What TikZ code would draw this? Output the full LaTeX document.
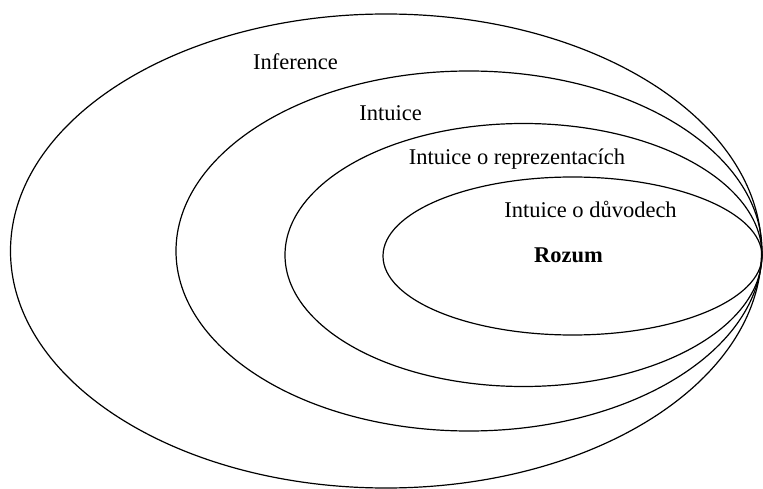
\documentclass[tikz,border=0pt]{standalone}
\usepackage{fontspec}
\setmainfont{Liberation Serif}
\usetikzlibrary{shapes.geometric}
\begin{document}
\begin{tikzpicture}[x=1pt, y=-1pt, line width=1.2pt, set/.style={ellipse,draw,inner sep=0pt}, lbl/.style={font=\fontsize{22.5}{27}\selectfont, inner sep=0pt}]%
\useasboundingbox (0,0) rectangle (763,489);
\begin{scope}
\node[set, minimum width=751pt, minimum height=474pt] (inference) at (386,251) {};
\node[set, minimum width=586pt, minimum height=360pt] (intuice) at (469,251) {};
\node[set, minimum width=477pt, minimum height=263pt] (reprez) at (523.5,255) {};
\node[set, minimum width=379pt, minimum height=158pt] (duvody) at (572.5,256) {};
\end{scope}
\begin{scope}[every node/.style={lbl}]
\node (l1) at (295.5,62) {Inference};
\node (l2) at (390.5,113) {Intuice};
\node (l3) at (517,159) {Intuice o reprezentacích};
\node (l4) at (590.5,209) {Intuice o důvodech};
\node[font=\fontsize{22.5}{27}\selectfont\bfseries] (rozum) at (568.5,255) {Rozum};
\end{scope}
\end{tikzpicture}
\end{document}
